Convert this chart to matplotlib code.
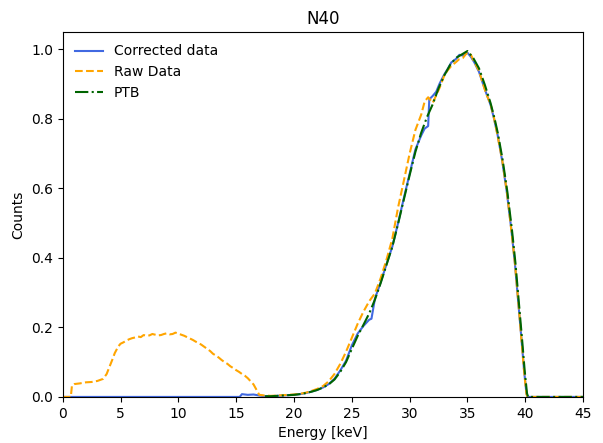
import numpy as np
import matplotlib.pyplot as plt

# Corrected data (energy in keV, normalised counts)
corr_e = [0, 2, 4, 6, 8, 10, 12, 14, 15.3, 15.5, 16, 16.5, 17, 17.5, 18, 18.5, 19, 19.5,
          20, 20.5, 21, 21.5, 22, 22.5, 23, 23.5, 24, 24.5, 25, 25.5, 26, 26.5, 26.7,
          27, 27.5, 28, 28.5, 29, 29.5, 30, 30.5, 31, 31.3, 31.6, 31.7, 32, 32.3,
          32.6, 33, 33.3, 33.6, 34, 34.3, 34.6, 35, 35.3, 35.6, 36, 36.3, 36.6, 37,
          37.3, 37.6, 38, 38.4, 38.8, 39.1, 39.4, 39.7, 39.9, 40.1, 40.2, 41, 43, 45]
corr_y = [0, 0, 0, 0, 0, 0, 0, 0, 0, 0.008, 0.006, 0.007, 0.004, 0.002, 0.002, 0.003, 0.004, 0.005,
          0.006, 0.008, 0.011, 0.015, 0.02, 0.027, 0.037, 0.052, 0.076, 0.104, 0.148, 0.182, 0.204, 0.222, 0.225,
          0.283, 0.33, 0.382, 0.432, 0.50, 0.572, 0.642, 0.712, 0.752, 0.772, 0.779, 0.856, 0.866, 0.878,
          0.902, 0.928, 0.944, 0.962, 0.972, 0.984, 0.982, 0.99, 0.978, 0.962, 0.935, 0.905, 0.876, 0.84,
          0.80, 0.755, 0.68, 0.59, 0.48, 0.385, 0.27, 0.155, 0.075, 0.01, 0.0, 0.0, 0.0, 0.0]

# Raw data
raw_e = [0, 0.7, 0.8, 1, 1.5, 2, 2.5, 3, 3.5, 3.8, 4, 4.3, 4.5, 4.8, 5, 5.25, 5.5, 5.75, 6, 6.25,
         6.5, 6.75, 7, 7.25, 7.5, 7.75, 8, 8.25, 8.5, 8.75, 9, 9.25, 9.5, 9.75, 10, 10.25,
         10.5, 10.75, 11, 11.25, 11.5, 11.75, 12, 12.25, 12.5, 12.75, 13, 13.25, 13.5, 13.75,
         14, 14.25, 14.5, 14.75, 15, 15.25, 15.5, 15.75, 16,
         16.5, 16.8, 17, 17.5, 18, 18.5, 19, 19.5, 20, 20.5, 21, 21.5, 22, 22.5, 23, 23.5,
         24, 24.5, 25, 25.5, 26, 26.5, 27, 27.5, 28, 28.5, 29, 29.5, 30, 30.5, 31, 31.3,
         31.6, 32, 32.3, 32.6, 33, 33.3, 33.6, 34, 34.3, 34.6, 35, 35.3, 35.6, 36, 36.3,
         36.6, 37, 37.3, 37.6, 38, 38.4, 38.8, 39.1, 39.4, 39.7, 39.9, 40.1, 40.2, 41, 43, 45]
raw_y = [0, 0, 0.033, 0.037, 0.039, 0.042, 0.043, 0.046, 0.052, 0.066, 0.083, 0.108, 0.126, 0.145, 0.153, 0.157, 0.162, 0.166, 0.169, 0.171,
         0.174, 0.172, 0.178, 0.176, 0.177, 0.181, 0.179, 0.177, 0.178, 0.181, 0.183, 0.180, 0.181, 0.185, 0.182, 0.179,
         0.176, 0.172, 0.168, 0.164, 0.159, 0.155, 0.150, 0.144, 0.138, 0.132, 0.124, 0.119, 0.113, 0.106,
         0.100, 0.095, 0.088, 0.083, 0.077, 0.072, 0.066, 0.061, 0.054,
         0.036, 0.018, 0.006, 0.004, 0.003, 0.004, 0.005, 0.006, 0.007, 0.009, 0.012, 0.017, 0.023, 0.031, 0.045, 0.066,
         0.095, 0.13, 0.17, 0.21, 0.245, 0.275, 0.298, 0.342, 0.395, 0.455, 0.545, 0.622, 0.70, 0.768, 0.812, 0.85,
         0.862, 0.846, 0.868, 0.89, 0.925, 0.94, 0.952, 0.963, 0.972, 0.975, 0.992, 0.984, 0.963, 0.938, 0.905,
         0.874, 0.842, 0.802, 0.752, 0.682, 0.592, 0.478, 0.386, 0.272, 0.152, 0.072, 0.008, 0.0, 0.0, 0.0, 0.0]

# PTB reference spectrum
ptb_e = [17.5, 18, 18.5, 19, 19.5, 20, 20.5, 21, 21.5, 22, 22.5, 23, 23.5, 24, 24.5, 25,
         25.5, 26, 26.5, 27, 27.5, 28, 28.5, 29, 29.5, 30, 30.5, 31, 31.5, 32, 32.5, 33,
         33.5, 34, 34.5, 35, 35.5, 36, 36.5, 37, 37.35, 37.65, 38.05, 38.45, 38.85, 39.15,
         39.45, 39.75, 39.95, 40.15, 40.25, 41, 43, 45]
ptb_y = [0.002, 0.002, 0.003, 0.004, 0.005, 0.006, 0.008, 0.011, 0.015, 0.02, 0.027, 0.036, 0.05, 0.072, 0.1, 0.138,
         0.175, 0.207, 0.24, 0.28, 0.328, 0.38, 0.432, 0.498, 0.568, 0.638, 0.705, 0.76, 0.805, 0.842, 0.888, 0.925,
         0.955, 0.975, 0.985, 0.995, 0.975, 0.945, 0.898, 0.845, 0.80, 0.755, 0.68, 0.59, 0.48, 0.385,
         0.27, 0.155, 0.075, 0.01, 0.0, 0.0, 0.0, 0.0]

fig, ax = plt.subplots(figsize=(6.03, 4.43), dpi=100)
fig.subplots_adjust(left=0.104, right=0.967, bottom=0.104, top=0.928)

ax.plot(corr_e, corr_y, color='royalblue', linestyle='-', label='Corrected data')
ax.plot(raw_e, raw_y, color='orange', linestyle='--', label='Raw Data')
ax.plot(ptb_e, ptb_y, color='darkgreen', linestyle='-.', label='PTB')

ax.set_xlim(0, 45)
ax.set_ylim(0, 1.05)
ax.set_xlabel('Energy [keV]')
ax.set_ylabel('Counts')
ax.set_title('N40')
ax.legend(loc='upper left', frameon=False)

fig.savefig('out.png', dpi=100)
